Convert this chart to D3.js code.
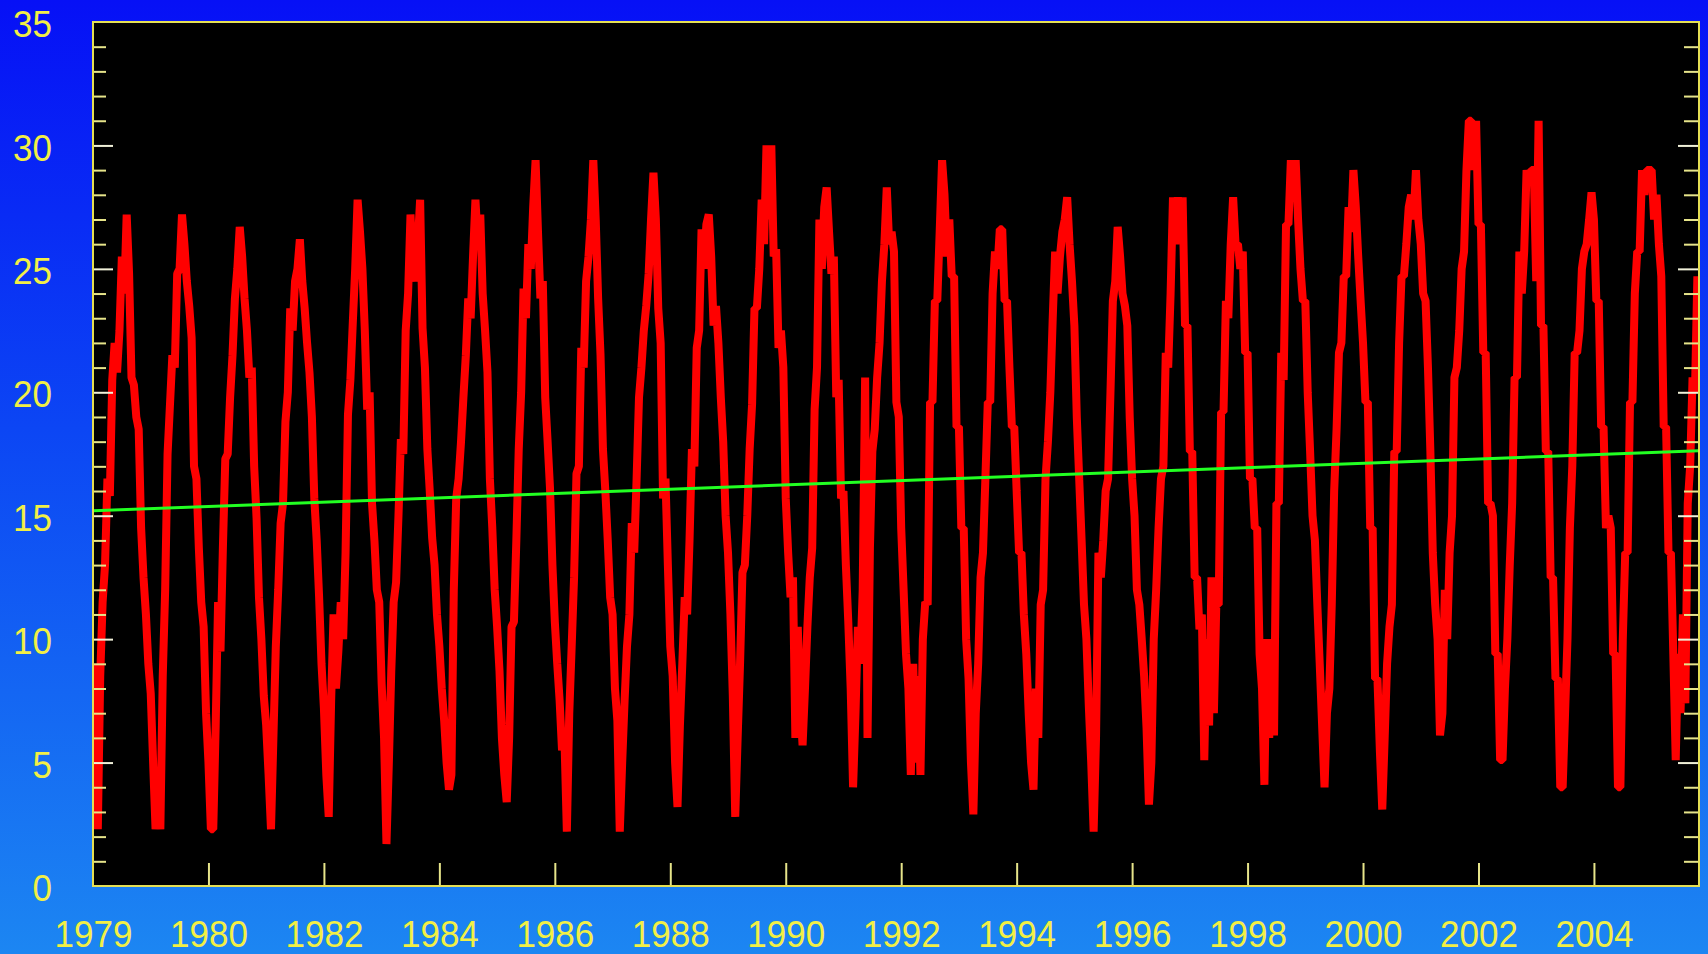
<!DOCTYPE html>
<html>
<head>
<meta charset="utf-8">
<script src="https://cdn.jsdelivr.net/npm/d3@7"></script>
<style>
  html, body { margin: 0; padding: 0; overflow: hidden; background: #0a3af4; }
  svg { display: block; }
</style>
</head>
<body>
<svg id="chart" width="1708" height="954"></svg>
<script>
// Daily-mean temperature series, sampled twice a month (24 samples per year), starting at the axis origin.
const startYear = 1978;
const samplesPerYear = 24;
const temps = [
  // 1978
  9.0, 5.5, 2.3, 8.5, 11.5, 13.0, 16.5, 15.8, 20.5, 22.0, 20.8, 22.5, 25.5, 24.0, 27.2, 24.8, 20.6, 20.3, 19.0, 18.5, 14.5, 12.5, 11.0, 9.0,
  // 1979
  7.8, 5.0, 2.3, 4.5, 2.3, 8.5, 12.0, 17.5, 19.5, 21.5, 21.0, 24.8, 25.0, 27.2, 26.0, 24.5, 23.5, 22.2, 17.0, 16.5, 13.7, 11.5, 10.5, 7.0,
  // 1980
  5.0, 2.3, 2.3, 6.5, 11.5, 9.5, 13.7, 17.3, 17.5, 19.8, 21.5, 23.8, 25.0, 26.7, 25.5, 23.8, 22.5, 20.6, 21.0, 17.0, 14.9, 11.7, 10.0, 7.7,
  // 1981
  6.5, 4.5, 2.3, 6.0, 9.7, 12.0, 14.7, 15.5, 18.8, 20.0, 23.4, 22.5, 24.5, 25.0, 26.2, 24.5, 23.4, 22.0, 20.8, 19.0, 15.7, 14.0, 11.7, 9.0,
  // 1982
  7.2, 4.5, 2.8, 7.5, 11.0, 8.0, 9.5, 11.5, 10.0, 13.5, 19.1, 20.5, 22.8, 25.0, 27.8, 26.5, 25.0, 22.5, 19.3, 20.0, 15.5, 14.0, 12.0, 11.5,
  // 1983
  8.2, 6.0, 1.7, 5.0, 8.7, 11.5, 12.3, 15.0, 18.1, 17.5, 22.5, 24.0, 27.2, 25.0, 24.5, 26.0, 27.8, 22.6, 21.0, 17.7, 16.0, 14.1, 13.0, 11.0,
  // 1984
  9.7, 8.0, 6.7, 5.0, 3.9, 4.5, 12.0, 15.7, 16.5, 18.0, 19.8, 21.5, 23.8, 23.0, 25.5, 27.8, 26.0, 27.2, 24.0, 22.5, 20.8, 16.5, 14.5, 12.0,
  // 1985
  10.5, 8.7, 6.0, 4.5, 3.4, 6.0, 10.5, 10.7, 14.0, 17.7, 20.0, 24.2, 23.0, 26.0, 25.0, 27.5, 29.4, 26.5, 23.8, 24.5, 19.8, 18.0, 16.1, 13.0,
  // 1986
  10.7, 9.0, 7.5, 5.5, 6.0, 2.2, 7.0, 9.7, 12.5, 16.7, 17.0, 21.8, 21.0, 24.5, 25.5, 27.0, 29.4, 27.0, 23.8, 21.5, 17.7, 16.0, 14.0, 11.7,
  // 1987
  11.0, 8.0, 6.7, 2.2, 5.0, 7.5, 9.7, 11.0, 14.7, 13.5, 16.5, 19.8, 21.0, 22.5, 23.5, 24.8, 27.0, 28.9, 27.0, 23.4, 22.0, 15.7, 16.5, 13.0,
  // 1988
  9.7, 8.5, 5.0, 3.2, 6.5, 9.0, 11.7, 11.0, 14.0, 17.7, 17.0, 21.8, 22.5, 26.6, 25.0, 26.8, 27.2, 25.5, 22.7, 23.5, 22.0, 19.8, 18.0, 15.0,
  // 1989
  13.5, 11.0, 7.7, 2.8, 6.0, 9.0, 12.7, 13.0, 15.0, 17.7, 19.5, 23.4, 23.4, 25.0, 27.8, 26.0, 30.0, 27.0, 30.0, 25.5, 25.8, 21.8, 22.5, 21.0,
  // 1990
  15.7, 13.5, 11.7, 12.5, 6.0, 10.5, 7.5, 5.7, 8.0, 10.5, 12.5, 13.7, 19.3, 21.0, 27.0, 25.0, 27.5, 28.3, 26.5, 24.8, 25.5, 19.8, 20.5, 15.7,
  // 1991
  16.0, 13.0, 10.7, 8.0, 4.0, 7.0, 10.5, 9.0, 12.0, 20.6, 6.0, 13.7, 17.6, 18.5, 20.6, 22.0, 24.5, 26.0, 28.3, 26.0, 26.5, 25.7, 19.6, 19.0,
  // 1992
  14.5, 12.0, 9.4, 8.0, 4.5, 9.0, 5.0, 8.5, 4.5, 10.0, 11.5, 11.4, 19.6, 19.6, 23.7, 23.7, 26.5, 29.4, 28.0, 25.5, 27.0, 24.7, 24.7, 18.6,
  // 1993
  18.6, 14.5, 14.5, 10.0, 8.4, 5.0, 2.9, 7.0, 9.0, 12.5, 13.5, 16.5, 19.6, 19.6, 24.0, 25.7, 25.0, 26.6, 26.6, 23.7, 23.7, 21.0, 18.6, 18.6,
  // 1994
  16.0, 13.5, 13.5, 11.0, 9.4, 7.0, 5.0, 3.9, 8.0, 6.0, 11.4, 12.0, 16.5, 18.0, 20.0, 23.0, 25.7, 24.0, 25.5, 26.5, 27.0, 27.9, 26.0, 24.5,
  // 1995
  22.7, 19.0, 16.5, 14.0, 11.4, 10.0, 7.3, 5.0, 2.2, 6.0, 13.5, 12.5, 14.0, 16.0, 16.5, 20.0, 23.7, 24.5, 26.7, 25.5, 24.0, 23.5, 22.7, 19.0,
  // 1996
  16.5, 15.0, 12.0, 11.4, 10.0, 8.5, 6.4, 3.3, 5.0, 10.0, 12.0, 14.5, 16.5, 17.0, 21.6, 21.0, 24.0, 27.9, 26.0, 27.9, 26.5, 27.9, 22.7, 22.7,
  // 1997
  17.6, 17.6, 12.5, 12.5, 10.4, 11.0, 5.1, 10.0, 6.5, 12.5, 7.0, 11.4, 11.4, 19.2, 19.2, 23.7, 23.0, 26.0, 27.9, 26.0, 26.0, 25.0, 25.7, 21.6,
  // 1998
  21.6, 16.5, 16.5, 14.5, 14.5, 9.4, 8.0, 4.1, 10.0, 6.0, 10.0, 6.1, 15.5, 15.5, 21.6, 20.5, 26.8, 26.8, 29.4, 28.0, 29.4, 27.0, 25.0, 23.7,
  // 1999
  23.7, 20.0, 17.6, 15.0, 14.0, 11.4, 9.0, 6.5, 4.0, 7.0, 8.0, 11.4, 16.0, 18.5, 21.6, 22.0, 24.7, 24.7, 27.5, 26.5, 29.0, 27.5, 25.5, 23.7,
  // 2000
  22.0, 19.6, 19.6, 14.5, 14.5, 8.4, 8.4, 5.5, 3.1, 6.0, 9.0, 10.5, 11.4, 17.6, 17.6, 22.0, 24.7, 24.7, 26.0, 27.5, 28.0, 27.0, 29.0, 27.0,
  // 2001
  26.0, 24.0, 23.7, 21.0, 17.6, 13.5, 11.4, 10.0, 6.1, 7.0, 12.0, 10.0, 13.5, 15.0, 20.6, 21.0, 22.5, 25.0, 25.7, 29.0, 31.0, 31.0, 29.0, 31.0,
  // 2002
  26.8, 26.8, 21.6, 21.6, 15.5, 15.5, 15.0, 9.4, 9.4, 5.1, 5.1, 8.0, 10.0, 13.0, 15.5, 20.6, 20.6, 25.7, 24.0, 25.7, 29.0, 28.5, 29.0, 29.0,
  // 2003
  24.5, 31.0, 22.7, 22.7, 17.6, 17.6, 12.5, 12.5, 8.4, 8.4, 4.0, 4.0, 7.0, 10.0, 14.5, 17.0, 21.6, 21.6, 22.5, 25.0, 25.7, 26.0, 27.0, 28.1,
  // 2004
  27.0, 23.7, 23.7, 18.6, 18.6, 14.5, 15.0, 14.5, 9.4, 9.4, 4.0, 4.0, 10.0, 13.5, 13.5, 19.6, 19.6, 24.0, 25.7, 25.7, 29.0, 28.0, 29.0, 29.0,
  // 2005
  29.0, 27.0, 28.0, 26.0, 24.7, 18.6, 18.6, 13.5, 13.5, 9.4, 5.1, 9.4, 7.0, 11.0, 7.4, 15.5, 17.0, 20.6, 20.0, 24.7
];

// Linear trend of the series (start and end of the fitted line).
const trendYears = [1978, 2005.82];
const trendValues = [15.2, 17.63];

// Axis extents and tick labels.
const xDomain = [1978, 2005.82];
const yDomain = [0, 35];
const xTickYears = [1978, 1980, 1982, 1984, 1986, 1988, 1990, 1992, 1994, 1996, 1998, 2000, 2002, 2004];
const xTickLabels = ["1979", "1980", "1982", "1984", "1986", "1988", "1990", "1992", "1994", "1996", "1998", "2000", "2002", "2004"];
const yTickValues = [0, 5, 10, 15, 20, 25, 30, 35];

// ---- layout ----
const W = 1708, H = 954;
const margin = { top: 22, right: 9, bottom: 68, left: 93 };
const plotW = W - margin.left - margin.right;
const plotH = H - margin.top - margin.bottom;

const svg = d3.select("#chart");
const defs = svg.append("defs");

const bg = defs.append("linearGradient")
  .attr("id", "bgGrad").attr("x1", 0).attr("y1", 0).attr("x2", 0).attr("y2", 1);
bg.append("stop").attr("offset", "0%").attr("stop-color", "#0610f6");
bg.append("stop").attr("offset", "45%").attr("stop-color", "#0c46f4");
bg.append("stop").attr("offset", "100%").attr("stop-color", "#1c86f2");

svg.append("rect").attr("width", W).attr("height", H).attr("fill", "url(#bgGrad)");

defs.append("clipPath").attr("id", "plotClip")
  .append("rect").attr("width", plotW).attr("height", plotH);

const g = svg.append("g").attr("transform", `translate(${margin.left},${margin.top})`);

const x = d3.scaleLinear().domain(xDomain).range([0, plotW]);
const y = d3.scaleLinear().domain(yDomain).range([plotH, 0]);

// plot background
g.append("rect").attr("width", plotW).attr("height", plotH).attr("fill", "#000");

// ---- series ----
const series = temps.map((v, i) => ({ t: startYear + i / samplesPerYear, v }));

const plot = g.append("g").attr("clip-path", "url(#plotClip)");

plot.append("path")
  .datum(series)
  .attr("fill", "none")
  .attr("stroke", "#ff0000")
  .attr("stroke-width", 8)
  .attr("stroke-linejoin", "bevel")
  .attr("d", d3.line().x(d => x(d.t)).y(d => y(d.v)));

const trend = trendYears.map((t, i) => ({ t, v: trendValues[i] }));
plot.append("path")
  .datum(trend)
  .attr("fill", "none")
  .attr("stroke", "#22ff22")
  .attr("stroke-width", 3)
  .attr("d", d3.line().x(d => x(d.t)).y(d => y(d.v)));

// ---- axes ----
const tickColor = "#e6e48a";
const majorTickColor = "#f0f0d8";
const labelColor = "#f2ef45";
const fontFamily = "'Liberation Sans', Arial, sans-serif";
const fontSize = 35;
const stretch = 1.07;

function styleTicks(sel, color, width) {
  sel.select(".domain").remove();
  sel.selectAll(".tick line").attr("stroke", color).attr("stroke-width", width);
  sel.selectAll(".tick text").remove();
}

const minorY = d3.range(1, 35).filter(v => v % 5 !== 0);
const majorY = yTickValues.filter(v => v > 0 && v < 35);

// left edge, ticks pointing inward
g.append("g").call(d3.axisRight(y).tickValues(minorY).tickSize(13).tickFormat(""))
  .call(s => styleTicks(s, tickColor, 2));
g.append("g").call(d3.axisRight(y).tickValues(majorY).tickSize(20).tickFormat(""))
  .call(s => styleTicks(s, majorTickColor, 2));

// right edge, ticks pointing inward
g.append("g").attr("transform", `translate(${plotW},0)`)
  .call(d3.axisLeft(y).tickValues(minorY).tickSize(15).tickFormat(""))
  .call(s => styleTicks(s, tickColor, 2));
g.append("g").attr("transform", `translate(${plotW},0)`)
  .call(d3.axisLeft(y).tickValues(majorY).tickSize(21).tickFormat(""))
  .call(s => styleTicks(s, majorTickColor, 2));

// bottom ticks pointing up
g.append("g").attr("transform", `translate(0,${plotH})`)
  .call(d3.axisTop(x).tickValues(xTickYears.filter(v => v > xDomain[0])).tickSize(23).tickFormat(""))
  .call(s => styleTicks(s, tickColor, 2));

// y labels
const yLab = g.append("g")
  .call(d3.axisLeft(y).tickValues(yTickValues).tickSize(0).tickFormat(d3.format("d")));
yLab.select(".domain").remove();
yLab.selectAll(".tick text")
  .attr("x", 0).attr("dy", null)
  .attr("text-anchor", "end")
  .attr("transform", `translate(-41,14.6) scale(1,${stretch})`)
  .attr("fill", labelColor)
  .style("font-family", fontFamily)
  .style("font-size", fontSize + "px");

// x labels
const xLab = g.append("g").attr("transform", `translate(0,${plotH})`)
  .call(d3.axisBottom(x).tickValues(xTickYears).tickSize(0).tickFormat((d, i) => xTickLabels[i]));
xLab.select(".domain").remove();
xLab.selectAll(".tick text")
  .attr("y", 0).attr("dy", null)
  .attr("text-anchor", "middle")
  .attr("transform", `translate(0,60.5) scale(1,${stretch})`)
  .attr("fill", labelColor)
  .style("font-family", fontFamily)
  .style("font-size", fontSize + "px");

// plot frame
g.append("rect")
  .attr("width", plotW).attr("height", plotH)
  .attr("fill", "none")
  .attr("stroke", "#e4de52")
  .attr("stroke-width", 2);
</script>
</body>
</html>
